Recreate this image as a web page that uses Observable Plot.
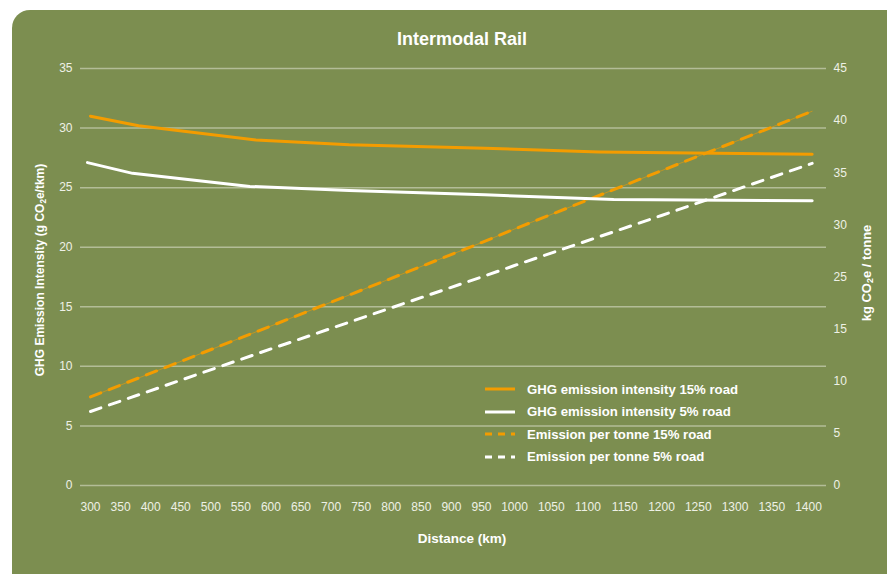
<!DOCTYPE html>
<html><head><meta charset="utf-8">
<script src="https://cdn.jsdelivr.net/npm/d3@7"></script>
<script src="https://cdn.jsdelivr.net/npm/@observablehq/plot@0.6"></script>
<style>
html,body{margin:0;padding:0;background:#fff;}
#wrap{position:relative;width:887px;height:574px;overflow:hidden;font-family:"Liberation Sans",Arial,Helvetica,sans-serif;}
#panel{position:absolute;left:12px;top:10px;width:900px;height:600px;background:#7c8e50;border-radius:18px 0 0 0;}
#chart{position:absolute;left:0;top:0;}
.lbl{position:absolute;color:#fff;font-weight:bold;white-space:nowrap;}
.lbl sub{font-size:0.68em;vertical-align:-2px;line-height:0;}
#title{left:0;width:924px;top:29px;text-align:center;font-size:18px;}
#xlab{left:0;width:924px;top:531px;text-align:center;font-size:13.5px;}
#ylab{left:40px;top:270px;font-size:12px;transform:translate(-50%,-50%) rotate(-90deg);}
#y2lab{left:866px;top:273px;font-size:13px;transform:translate(-50%,-50%) rotate(-90deg);}
#legend{position:absolute;left:485px;top:378px;color:#fff;font-weight:bold;font-size:13.2px;}
#legend .row{height:22.5px;display:flex;align-items:center;}
#legend svg{margin-right:12px;}
</style></head>
<body>
<div id="wrap">
  <div id="panel"></div>
  <div id="chart"></div>
  <div class="lbl" id="title">Intermodal Rail</div>
  <div class="lbl" id="xlab">Distance (km)</div>
  <div class="lbl" id="ylab">GHG Emission Intensity (g CO<sub>2</sub>e/tkm)</div>
  <div class="lbl" id="y2lab">kg CO<sub>2</sub>e / tonne</div>
  <div id="legend"></div>
</div>
<script>
// ---- data ----
const xTicks = [300,350,400,450,500,550,600,650,700,750,800,850,900,950,1000,1050,1100,1150,1200,1250,1300,1350,1400];
const yTicks = [0,5,10,15,20,25,30,35];
// right axis: evenly spaced positions, printed labels as in the source (no "20")
const y2TickPos = [0,5,10,15,20,25,30,35,40];
const y2TickLabels = ["0","5","10","15","25","30","35","40","45"];

const distInt15 = [300, 380, 575, 730, 955, 1115, 1405];
const ghgInt15  = [31.0, 30.2, 29.0, 28.6, 28.3, 28.0, 27.8];
const distInt5  = [295, 370, 565, 730, 955, 1135, 1405];
const ghgInt5   = [27.1, 26.2, 25.1, 24.75, 24.4, 24.0, 23.9];

const distTonne   = [300, 600, 950, 1000, 1200, 1405];
const perTonne15  = [8.5, 15.3, 23.3, 24.6, 30.2, 35.9];   // on right-axis position scale
const perTonne5   = [7.1, 13.1, 20.0, 21.1, 25.9, 30.9];

const seriesNames = ["GHG emission intensity 15% road","GHG emission intensity 5% road","Emission per tonne 15% road","Emission per tonne 5% road"];
const ORANGE = "#f39c00", WHITE = "#ffffff";

// ---- build tables ----
const k = 35/40; // right axis position -> left axis units
const int15 = distInt15.map((d,i)=>({d, v: ghgInt15[i]}));
const int5  = distInt5.map((d,i)=>({d, v: ghgInt5[i]}));
const t15 = distTonne.map((d,i)=>({d, v: perTonne15[i]*k}));
const t5  = distTonne.map((d,i)=>({d, v: perTonne5[i]*k}));
const y2Label = new Map(y2TickPos.map((p,i)=>[p*k, y2TickLabels[i]]));

const plot = Plot.plot({
  width: 887, height: 574,
  marginTop: 68, marginBottom: 89, marginLeft: 80, marginRight: 61,
  style: {background: "transparent", color: "#fff", fontFamily: "Liberation Sans, Arial, sans-serif", fontSize: "12px"},
  // the source's distance axis is not uniform (labels below 1000 are packed tighter)
  x: {type: "linear", domain: [300, 950, 1000, 1400], range: [90, 481, 514, 808]},
  y: {domain: [0,35]},
  marks: [
    Plot.gridY(yTicks, {stroke: "#b3bd97", strokeOpacity: 1, strokeWidth: 1.5}),
    Plot.axisY(yTicks, {anchor: "left", tickSize: 0, tickPadding: 8, label: null, fill: "#eef1e6", fontSize: 12}),
    Plot.axisY(y2TickPos.map(p=>p*k), {anchor: "right", tickSize: 0, tickPadding: 7, label: null, fill: "#eef1e6", fontSize: 12, tickFormat: d => y2Label.get(d)}),
    Plot.axisX(xTicks, {anchor: "bottom", tickSize: 0, tickPadding: 17, label: null, fill: "#eef1e6", fontSize: 12, tickFormat: d => String(d)}),
    Plot.line(t15, {x: "d", y: "v", stroke: ORANGE, strokeWidth: 0.8, strokeOpacity: 0.7}),
    Plot.line(t15, {x: "d", y: "v", stroke: ORANGE, strokeWidth: 3, strokeDasharray: "11,9"}),
    Plot.line(t5, {x: "d", y: "v", stroke: WHITE, strokeWidth: 3, strokeDasharray: "11,9"}),
    Plot.line(int15, {x: "d", y: "v", stroke: ORANGE, strokeWidth: 3}),
    Plot.line(int5, {x: "d", y: "v", stroke: WHITE, strokeWidth: 3})
  ]
});
document.getElementById("chart").appendChild(plot);

// ---- legend ----
const styles = [[ORANGE,null],[WHITE,null],[ORANGE,"7,6"],[WHITE,"7,6"]];
const leg = document.getElementById("legend");
seriesNames.forEach((name,i)=>{
  const row = document.createElement("div"); row.className = "row";
  const [c,dash] = styles[i];
  row.innerHTML = `<svg width="30" height="6"><line x1="0" x2="30" y1="3" y2="3" stroke="${c}" stroke-width="3" ${dash?`stroke-dasharray="${dash}"`:""}/></svg><span>${name}</span>`;
  leg.appendChild(row);
});
</script>
</body></html>
